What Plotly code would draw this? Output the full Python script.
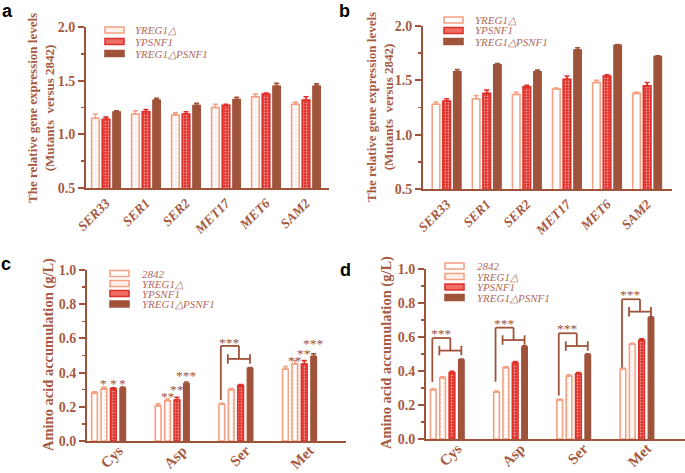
import plotly.graph_objects as go

W, H = 685, 473

# ---------------- data ----------------
genes = ["SER33", "SER1", "SER2", "MET17", "MET6", "SAM2"]
a_yreg1 = [1.15, 1.19, 1.18, 1.25, 1.35, 1.28]
a_yreg1_err = [0.04, 0.03, 0.02, 0.03, 0.025, 0.02]
a_ypsnf1 = [1.14, 1.21, 1.19, 1.27, 1.375, 1.32]
a_ypsnf1_err = [0.02, 0.02, 0.02, 0.01, 0.01, 0.03]
a_double = [1.21, 1.32, 1.27, 1.325, 1.45, 1.45]
a_double_err = [0.01, 0.015, 0.02, 0.02, 0.025, 0.02]

b_yreg1 = [1.28, 1.33, 1.37, 1.42, 1.48, 1.38]
b_yreg1_err = [0.02, 0.03, 0.02, 0.01, 0.02, 0.01]
b_ypsnf1 = [1.31, 1.38, 1.44, 1.51, 1.54, 1.45]
b_ypsnf1_err = [0.02, 0.03, 0.015, 0.03, 0.01, 0.03]
b_double = [1.58, 1.645, 1.58, 1.78, 1.825, 1.72]
b_double_err = [0.02, 0.01, 0.015, 0.02, 0.005, 0.005]

amino = ["Cys", "Asp", "Ser", "Met"]
c_2842 = [0.28, 0.205, 0.215, 0.42]
c_2842_err = [0.008, 0.012, 0.005, 0.015]
c_yreg1 = [0.305, 0.235, 0.30, 0.45]
c_yreg1_err = [0.01, 0.01, 0.006, 0.02]
c_ypsnf1 = [0.305, 0.24, 0.325, 0.45]
c_ypsnf1_err = [0.006, 0.015, 0.005, 0.02]
c_double = [0.31, 0.335, 0.425, 0.495]
c_double_err = [0.005, 0.01, 0.005, 0.015]

d_2842 = [0.29, 0.275, 0.23, 0.412]
d_2842_err = [0.006, 0.007, 0.005, 0.006]
d_yreg1 = [0.36, 0.42, 0.37, 0.557]
d_yreg1_err = [0.006, 0.005, 0.008, 0.006]
d_ypsnf1 = [0.39, 0.447, 0.383, 0.58]
d_ypsnf1_err = [0.008, 0.008, 0.008, 0.01]
d_double = [0.465, 0.542, 0.495, 0.713]
d_double_err = [0.006, 0.006, 0.006, 0.006]

# significance marks above single bars in panel c (series index 1..3)
c_star_text = {1: ["*", "**", "", "**"], 2: ["*", "**", "", "**"], 3: ["*", "***", "", "***"]}
c_star_level = {1: [0.347, 0.273, None, 0.484], 2: [0.347, 0.314, None, 0.526],
                3: [0.347, 0.396, None, 0.58]}
# brackets: (group index, start, top, low, star level)
c_brackets = [(2, 0.24, 0.556, 0.48, 0.59)]
d_brackets = [(0, 0.335, 0.594, 0.52, 0.63), (1, 0.337, 0.655, 0.582, 0.69),
              (2, 0.255, 0.622, 0.547, 0.66), (3, 0.42, 0.822, 0.749, 0.86)]

names3 = ["YREG1\u25b3", "YPSNF1", "YREG1\u25b3PSNF1"]
names4 = ["2842", "YREG1\u25b3", "YPSNF1", "YREG1\u25b3PSNF1"]

# ---------------- styles ----------------
SALMON = "#F5A082"
RED = "#E0302A"
BROWN = "#A0533B"
TXT = "#A65A42"
LEG = "#B06A5A"
SERIF = "Liberation Serif, Times New Roman, serif"


def style(kind):
    if kind == "hollow":
        return dict(color="white", line=dict(color=SALMON, width=1.6)), SALMON
    if kind == "dotted":
        return dict(color="white", line=dict(color=SALMON, width=1.6),
                    pattern=dict(shape=".", fgcolor=SALMON, bgcolor="white",
                                 size=4, solidity=0.15, fillmode="overlay")), SALMON
    if kind == "checker":
        return dict(color=RED, line=dict(color=RED, width=1.6),
                    pattern=dict(shape=".", fgcolor="white", size=3,
                                 solidity=0.35, fillmode="overlay")), RED
    return dict(color=BROWN, line=dict(color=BROWN, width=1.2)), BROWN


fig = go.Figure()


def add_panel(xa, ya, cats, series, step, width):
    n = len(series)
    pos = []
    for k, (vals, errs, kind) in enumerate(series):
        off = (k - (n - 1) / 2) * step
        xs = [i + off for i in range(len(cats))]
        pos.append(xs)
        mk, ec = style(kind)
        fig.add_trace(go.Bar(
            x=xs, y=vals, width=width, xaxis=xa, yaxis=ya, marker=mk,
            showlegend=False, hoverinfo="skip",
            error_y=dict(type="data", array=errs, arrayminus=[0] * len(vals),
                         symmetric=False, color=ec, thickness=1.6, width=2.5)))
    return pos


pa = add_panel("x", "y", genes, [(a_yreg1, a_yreg1_err, "dotted"),
                                 (a_ypsnf1, a_ypsnf1_err, "checker"),
                                 (a_double, a_double_err, "solid")], 0.265, 0.19)
pb = add_panel("x2", "y2", genes, [(b_yreg1, b_yreg1_err, "hollow"),
                                   (b_ypsnf1, b_ypsnf1_err, "checker"),
                                   (b_double, b_double_err, "solid")], 0.265, 0.19)
STEP4 = 0.148
pc = add_panel("x3", "y3", amino, [(c_2842, c_2842_err, "hollow"),
                                   (c_yreg1, c_yreg1_err, "dotted"),
                                   (c_ypsnf1, c_ypsnf1_err, "checker"),
                                   (c_double, c_double_err, "solid")], STEP4, 0.09)
pd = add_panel("x4", "y4", amino, [(d_2842, d_2842_err, "hollow"),
                                   (d_yreg1, d_yreg1_err, "dotted"),
                                   (d_ypsnf1, d_ypsnf1_err, "checker"),
                                   (d_double, d_double_err, "solid")], STEP4, 0.09)


def xdom(l, r):
    return [l / W, r / W]


def ydom(t, b):
    return [1 - b / H, 1 - t / H]


tickfont = dict(family=SERIF, size=14, color=TXT, weight="bold")


def yax(dom, rng, vals, txt, minor_d, anchor):
    return dict(domain=dom, range=rng, tickvals=vals, ticktext=txt, ticks="outside",
                ticklen=6, tickwidth=2, tickcolor=BROWN, showline=True, linecolor=BROWN,
                linewidth=2, showgrid=False, zeroline=False, tickfont=tickfont,
                anchor=anchor, automargin=False,
                minor=dict(dtick=minor_d, tick0=rng[0], ticks="outside", ticklen=3.5,
                           tickwidth=1.5, tickcolor=BROWN, showgrid=False))


def xax(dom, rng, cats, italic, anchor, size, shift=0, standoff=0):
    f = dict(family=SERIF, size=size, color=TXT, weight="bold")
    if italic:
        f["style"] = "italic"
    return dict(domain=dom, range=rng, tickvals=list(range(len(cats))), ticktext=cats,
                tickangle=-45, ticks="", showline=True, linecolor=BROWN, linewidth=2,
                showgrid=False, zeroline=False, tickfont=f, anchor=anchor,
                automargin=False, ticklabelshift=shift, ticklabelstandoff=standoff)


ya_vals = [0.5, 1.0, 1.5, 2.0]
ya_txt = ["0.5", "1.0", "1.5", "2.0"]
yc_vals = [0, 0.2, 0.4, 0.6, 0.8, 1.0]
yc_txt = ["0.0", "0.2", "0.4", "0.6", "0.8", "1.0"]

fig.update_layout(
    width=W, height=H, margin=dict(l=0, r=0, t=0, b=0, autoexpand=False),
    plot_bgcolor="white", paper_bgcolor="white", barmode="overlay", showlegend=False,
    hovermode=False,
    xaxis=xax(xdom(86, 329), [-0.5, 5.575], genes, True, "y", 13.5),
    yaxis=yax(ydom(27, 188), [0.5, 2.0], ya_vals, ya_txt, 0.25, "x"),
    xaxis2=xax(xdom(423, 672), [-0.59, 5.62], genes, True, "y2", 13.5),
    yaxis2=yax(ydom(26, 189), [0.5, 2.0], ya_vals, ya_txt, 0.25, "x2"),
    xaxis3=xax(xdom(87, 346), [-0.34, 3.73], amino, False, "y3", 15, 10, -7),
    yaxis3=yax(ydom(270, 441), [0, 1.0], yc_vals, yc_txt, 0.1, "x3"),
    xaxis4=xax(xdom(426, 685), [-0.337, 3.76], amino, False, "y4", 15, 10, -7),
    yaxis4=yax(ydom(269, 439), [0, 1.0], yc_vals, yc_txt, 0.1, "x4"),
)

ann = []
shapes = []


def px(x):
    return x / W


def py(y):
    return 1 - y / H


# y titles
for (x, y, t, s) in [(41, 108, "The relative gene expression levels<br>(Mutants&nbsp; versus 2842)", 13),
                     (380, 107, "The relative gene expression levels<br>(Mutants&nbsp; versus 2842)", 13),
                     (48, 355, "Amino acid accumulation (g/L)", 14.5),
                     (386, 353, "Amino acid accumulation (g/L)", 14.5)]:
    ann.append(dict(x=px(x), y=py(y), xref="paper", yref="paper", text=t, textangle=-90,
                    showarrow=False, xanchor="center", yanchor="middle",
                    font=dict(family=SERIF, size=s, color=TXT, weight="bold")))

# panel letters
for (x, y, t) in [(8, 11, "a"), (344, 11, "b"), (6, 264, "c"), (345, 270, "d")]:
    ann.append(dict(x=px(x), y=py(y), xref="paper", yref="paper", text=t, showarrow=False,
                    xanchor="center", yanchor="middle",
                    font=dict(family="Liberation Sans, Arial, sans-serif", size=18,
                              color="black", weight="bold")))

# legends (drawn by hand)
swatch = {"hollow": ("white", SALMON), "dotted": ("#FFF1EA", SALMON),
          "checker": ("#EE6E66", RED), "solid": (BROWN, BROWN)}


def legend(x0, x1, rows, tx, names, kinds):
    for yc, nm, kd in zip(rows, names, kinds):
        fc, lc = swatch[kd]
        shapes.append(dict(type="rect", xref="paper", yref="paper", x0=px(x0), x1=px(x1),
                           y0=py(yc + 3), y1=py(yc - 3), fillcolor=fc,
                           line=dict(color=lc, width=1.6)))
        ann.append(dict(x=px(tx), y=py(yc), xref="paper", yref="paper", text=nm,
                        showarrow=False, xanchor="left", yanchor="middle",
                        font=dict(family=SERIF, size=11, color=LEG, style="italic")))


legend(105, 124, [30, 41.5, 53.5], 133, names3, ["dotted", "checker", "solid"])
legend(444, 463, [20, 30.5, 41.5], 473, names3, ["hollow", "checker", "solid"])
legend(110, 129, [273.5, 283.5, 293.5, 304], 140, names4, ["hollow", "dotted", "checker", "solid"])
legend(445, 464, [266, 276.5, 287, 297.5], 475, names4, ["hollow", "dotted", "checker", "solid"])

star_font = dict(family=SERIF, size=13.5, color=BROWN)

# stars above single bars (panel c)
for k in (1, 2, 3):
    for i, (t, lv) in enumerate(zip(c_star_text[k], c_star_level[k])):
        if t:
            ann.append(dict(x=pc[k][i], y=lv, xref="x3", yref="y3", text=t, showarrow=False,
                            xanchor="center", yanchor="middle", yshift=-2, font=star_font))


def brackets(xr, yr, pos, items, tick):
    for (g, start, top, low, star) in items:
        xl = pos[0][g] - 0.1 * STEP4
        ll = pos[1][g] - 0.35 * STEP4
        lr = pos[3][g]
        xm = (ll + lr) / 2
        segs = [(xl, start, xl, top), (xl, top, xm, top), (xm, top, xm, low),
                (ll, low, lr, low), (ll, low - tick, ll, low + tick),
                (lr, low - tick, lr, low + tick)]
        for (x0, y0, x1, y1) in segs:
            shapes.append(dict(type="line", xref=xr, yref=yr, x0=x0, y0=y0, x1=x1, y1=y1,
                               line=dict(color=BROWN, width=1.8)))
        ann.append(dict(x=(xl + xm) / 2, y=star, xref=xr, yref=yr, text="***",
                        showarrow=False, xanchor="center", yanchor="middle", yshift=-2,
                        font=star_font))


brackets("x3", "y3", pc, c_brackets, 0.028)
brackets("x4", "y4", pd, d_brackets, 0.028)

fig.update_layout(annotations=ann, shapes=shapes)
fig.write_html("out.html", config={"displayModeBar": False, "staticPlot": True},
               post_script="document.body.style.margin='0px';document.body.style.overflow='hidden';")
